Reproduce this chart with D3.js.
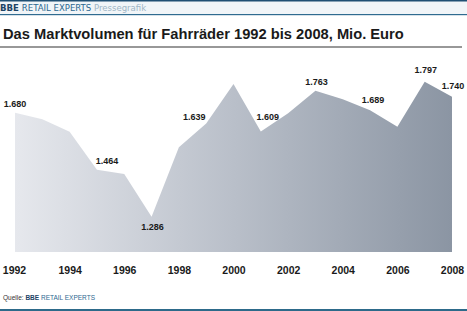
<!DOCTYPE html>
<html><head><meta charset="utf-8">
<script src="https://cdn.jsdelivr.net/npm/d3@7"></script>
<style>
html,body{margin:0;padding:0;background:#fff;}
svg{display:block;font-family:"Liberation Sans",Arial,sans-serif;}
</style></head>
<body><svg id="c" width="467" height="311"></svg>
<script>
const years = [1992,1993,1994,1995,1996,1997,1998,1999,2000,2001,2002,2003,2004,2005,2006,2007,2008];
const values = [1680,1655,1608,1464,1448,1286,1549,1639,1789,1609,1678,1763,1731,1689,1627,1797,1740];
const labeledYears = [1992,1995,1997,1999,2001,2003,2005,2007,2008];
const labelTexts = ["1.680","1.464","1.286","1.639","1.609","1.763","1.689","1.797","1.740"];
const tickYears = [1992,1994,1996,1998,2000,2002,2004,2006,2008];
const title = "Das Marktvolumen für Fahrräder 1992 bis 2008, Mio. Euro";

const W = 467, H = 311;
const svg = d3.select("#c");
const x = d3.scaleLinear().domain([1992,2008]).range([15,452]);
const y = d3.scaleLinear().domain([1152,1680]).range([252,112.7]);

const defs = svg.append("defs");
const g = defs.append("linearGradient").attr("id","fill").attr("x1","0").attr("x2","1").attr("y1","0").attr("y2","0");
g.append("stop").attr("offset","0%").attr("stop-color","#e6e8ed");
g.append("stop").attr("offset","50%").attr("stop-color","#b9bfc9");
g.append("stop").attr("offset","100%").attr("stop-color","#8b95a3");

// header
svg.append("rect").attr("x",0).attr("y",0).attr("width",W).attr("height",15).attr("fill","#f1f5f8");
svg.append("rect").attr("x",0).attr("y",0).attr("width",W).attr("height",1.5).attr("fill","#1f4f73");
svg.append("rect").attr("x",0).attr("y",14).attr("width",W).attr("height",1.2).attr("fill","#2f6b90");
const ht = svg.append("text").attr("x",0).attr("y",11).attr("font-size",9.5).attr("font-family","'Liberation Sans Narrow','DejaVu Sans Condensed',sans-serif");
ht.append("tspan").attr("font-weight","bold").attr("fill","#1d4466").text("BBE ");
ht.append("tspan").attr("fill","#2d6890").text("RETAIL EXPERTS ");
ht.append("tspan").attr("fill","#9fb5c6").text("Pressegrafik");

// title
svg.append("text").attr("x",3).attr("y",38.5).attr("font-size",14.7).attr("font-weight","bold").attr("fill","#1a1a1a").text(title);
svg.append("rect").attr("x",0).attr("y",46.5).attr("width",462).attr("height",1).attr("fill","#333");

// area
const area = d3.area().x((d,i)=>x(years[i])).y0(y(1152)).y1(d=>y(d));
svg.append("path").datum(values).attr("d",area).attr("fill","url(#fill)");

// value labels
const off = {1995:[10,-6],1999:[-12,-4],2001:[7,-11],2003:[1,-6],2005:[3,-7],2007:[1,-9],2008:[1,-8]};
labeledYears.forEach((yr,i)=>{
  const v = values[years.indexOf(yr)];
  let o = off[yr] || [0,-6];
  if (yr===1997) o=[1,13];
  svg.append("text").attr("x",x(yr)+o[0]).attr("y",y(v)+o[1]).attr("text-anchor","middle")
    .attr("font-size",9).attr("font-weight","bold").attr("fill","#1a1a1a").text(labelTexts[i]);
});

// x axis labels
const ax = svg.append("g").attr("transform","translate(0,274)").call(d3.axisBottom(x).tickValues(tickYears).tickFormat(d3.format("d")).tickSize(0).tickPadding(0));
ax.select(".domain").remove();
ax.selectAll("text").attr("font-size",10.5).attr("font-weight","bold").attr("fill","#1a1a1a").attr("font-family","'Liberation Sans',Arial,sans-serif").attr("dy","0");
ax.selectAll(".tick").filter(d=>d===1992).select("text").attr("dx",-1);

// footer
const ft = svg.append("text").attr("x",3).attr("y",300).attr("font-size",6.5).attr("font-family","'Liberation Sans Narrow',sans-serif");
ft.append("tspan").attr("fill","#333").text("Quelle: ");
ft.append("tspan").attr("font-weight","bold").attr("fill","#1d4466").text("BBE ");
ft.append("tspan").attr("fill","#2d6890").text("RETAIL EXPERTS");
svg.append("rect").attr("x",0).attr("y",309).attr("width",W).attr("height",2).attr("fill","#2d6a8a");
</script></body></html>
